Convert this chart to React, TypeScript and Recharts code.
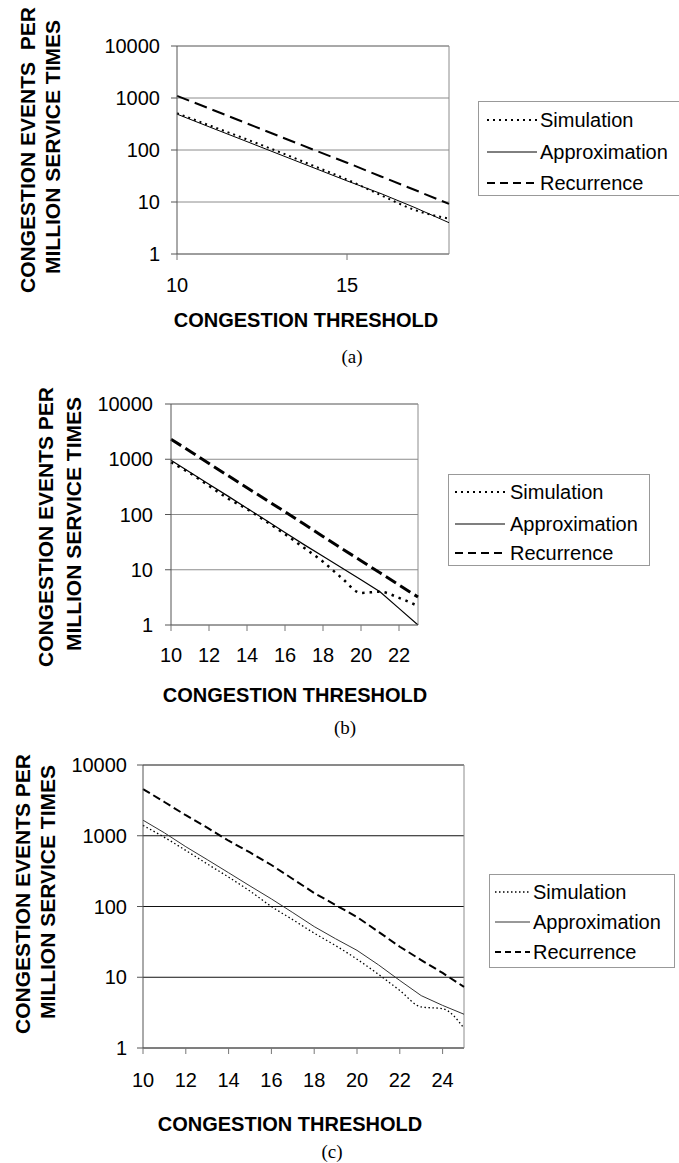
import React from "react";
import { LineChart, Line, XAxis, YAxis, CartesianGrid, ReferenceLine, Legend, Label } from "recharts";

// shared
const seriesNames = ["Simulation", "Approximation", "Recurrence"];
const yTicks = [1, 10, 100, 1000, 10000];

// panel (a)
const thresholdA = [10, 11, 12, 13, 14, 15, 16, 17, 18];
const simulationA = [510, 290, 165, 92, 50, 27, 13.5, 7.0, 4.8];
const approximationA = [490, 270, 150, 83, 46, 25.5, 14.5, 7.8, 4.0];
const recurrenceA = [1100, 610, 335, 185, 102, 57, 31, 17, 9.2];
const xTicksA = [10, 15];

// panel (b)
const thresholdB = [10, 11, 12, 13, 14, 15, 16, 17, 18, 19, 20, 21, 22, 23];
const simulationB = [880, 560, 330, 195, 125, 75, 44, 25, 14, 7, 3.8, 4.0, 3.1, 2.2];
const approximationB = [955, 580, 353, 215, 130, 79, 47, 28.5, 17.5, 10.8, 6.6, 4.0, 2.0, 1.0];
const recurrenceB = [2300, 1400, 840, 505, 305, 185, 112, 67, 40, 24, 14.6, 8.8, 5.3, 3.2];
const xTicksB = [10, 12, 14, 16, 18, 20, 22];

// panel (c)
const thresholdC = [10, 11, 12, 13, 14, 15, 16, 17, 18, 19, 20, 21, 22, 23, 24, 25];
const simulationC = [1400, 950, 620, 400, 260, 165, 100, 65, 42, 28, 18, 11, 6.5, 3.8, 3.6, 1.9];
const approximationC = [1660, 1100, 700, 460, 300, 195, 128, 82, 52, 35, 24, 15, 9, 5.5, 4.0, 3.0];
const recurrenceC = [4570, 3000, 1950, 1300, 850, 580, 386, 245, 155, 105, 71, 44, 27, 17.5, 11.5, 7.3];
const xTicksC = [10, 12, 14, 16, 18, 20, 22, 24];

function rows(t: number[], sim: number[], apx: number[], rec: number[]) {
  return t.map((x, i) => ({ t: x, sim: sim[i], apx: apx[i], rec: rec[i] }));
}

const FONT = "'Liberation Sans', Arial, sans-serif";

type LineStyle = { width: number; dash?: string; color?: string; legendDash?: string };

const panels = [
  {
    id: "a",
    top: 0,
    height: 345,
    data: rows(thresholdA, simulationA, approximationA, recurrenceA),
    xTicks: xTicksA,
    xMax: 18,
    plot: { left: 177, right: 449, top: 46, bottom: 254 },
    yTickMargin: 11,
    xTickMargin: 18,
    gridColor: "#8c8c8c",
    yTitle: { x1: 27, x2: 52, y1: 150, y2: 147, line1: "CONGESTION EVENTS  PER" },
    xTitle: { x: 306, y: 320 },
    caption: { x: 352, y: 357 },
    legend: { left: 478, top: 101, width: 215, height: 95, rows: [19, 51, 82], sx: 9, ex: 59, tx: 62 },
    styles: {
      sim: { width: 2, dash: "2 4", legendDash: "2 4" },
      apx: { width: 1 },
      rec: { width: 2, dash: "13 6", legendDash: "8 5" },
    } as Record<string, LineStyle>,
  },
  {
    id: "b",
    top: 360,
    height: 350,
    data: rows(thresholdB, simulationB, approximationB, recurrenceB),
    xTicks: xTicksB,
    xMax: 23,
    plot: { left: 171, right: 418, top: 44, bottom: 265 },
    yTickMargin: 12,
    xTickMargin: 17,
    gridColor: "#8c8c8c",
    yTitle: { x1: 45, x2: 73, y1: 167, y2: 164, line1: "CONGESTION EVENTS PER" },
    xTitle: { x: 295, y: 335 },
    caption: { x: 345, y: 728 },
    legend: { left: 448, top: 114, width: 202, height: 92, rows: [18, 50, 79], sx: 7, ex: 57, tx: 62 },
    styles: {
      sim: { width: 2.5, dash: "2.5 5", legendDash: "2 4" },
      apx: { width: 1.2 },
      rec: { width: 3, dash: "12 5", legendDash: "8 5" },
    } as Record<string, LineStyle>,
  },
  {
    id: "c",
    top: 740,
    height: 423,
    data: rows(thresholdC, simulationC, approximationC, recurrenceC),
    xTicks: xTicksC,
    xMax: 25,
    plot: { left: 143, right: 464, top: 25, bottom: 308 },
    yTickMargin: 10,
    xTickMargin: 19,
    gridColor: "#111",
    yTitle: { x1: 22, x2: 47, y1: 154, y2: 152, line1: "CONGESTION EVENTS PER" },
    xTitle: { x: 290, y: 384 },
    caption: { x: 332, y: 1152 },
    legend: { left: 489, top: 134, width: 186, height: 94, rows: [18, 48, 78], sx: 6, ex: 41, tx: 44 },
    styles: {
      sim: { width: 1.3, dash: "1.5 2.5", legendDash: "1.5 2.5" },
      apx: { width: 1, color: "#333" },
      rec: { width: 2, dash: "8 4", legendDash: "6 4" },
    } as Record<string, LineStyle>,
  },
];

const keys = ["sim", "apx", "rec"];

function LegendBox({ cfg }: { cfg: any }) {
  const lg = cfg.legend;
  return (
    <svg width={lg.width} height={lg.height} style={{ display: "block", overflow: "visible" }}>
      <rect x={0.5} y={0.5} width={lg.width - 1} height={lg.height - 1} fill="#fff" stroke="#999" />
      {keys.map((k, i) => {
        const st: LineStyle = cfg.styles[k];
        const y = lg.rows[i];
        return (
          <g key={k}>
            <line x1={lg.sx} x2={lg.ex} y1={y} y2={y} stroke={st.color || "#000"}
              strokeWidth={Math.min(st.width, 2)} strokeDasharray={st.legendDash} />
            <text x={lg.tx} y={y} dominantBaseline="central" fontSize={20} fontFamily={FONT} fill="#000">
              {seriesNames[i]}
            </text>
          </g>
        );
      })}
    </svg>
  );
}

function Panel({ cfg }: { cfg: any }) {
  const W = 679;
  const p = cfg.plot;
  const yt = cfg.yTitle;
  return (
    <div style={{ position: "absolute", left: 0, top: cfg.top, width: W, height: cfg.height }}>
      <LineChart
        width={W}
        height={cfg.height}
        data={cfg.data}
        margin={{ top: p.top, right: W - p.right, left: 0, bottom: 0 }}
        style={{ fontFamily: FONT }}
      >
        <CartesianGrid vertical={false} stroke={cfg.gridColor} strokeWidth={1} />
        <ReferenceLine y={10000} stroke="#8c8c8c" />
        <ReferenceLine x={cfg.xMax} stroke="#8c8c8c" />
        <XAxis
          type="number"
          dataKey="t"
          domain={[10, cfg.xMax]}
          ticks={cfg.xTicks}
          interval={0}
          height={cfg.height - p.bottom}
          tickSize={6}
          tickMargin={cfg.xTickMargin}
          axisLine={{ stroke: "#777" }}
          tickLine={{ stroke: "#777" }}
          tick={{ fill: "#000", fontSize: 20, fontFamily: FONT }}
        >
          <Label
            content={() => (
              <text x={cfg.xTitle.x} y={cfg.xTitle.y} textAnchor="middle" dominantBaseline="central"
                fontWeight="bold" fontSize={20} fontFamily={FONT} fill="#000">
                CONGESTION THRESHOLD
              </text>
            )}
          />
        </XAxis>
        <YAxis
          type="number"
          scale="log"
          domain={[1, 10000]}
          ticks={yTicks}
          allowDataOverflow
          interval={0}
          width={p.left}
          tickSize={6}
          tickMargin={cfg.yTickMargin}
          axisLine={{ stroke: "#555" }}
          tickLine={{ stroke: "#555" }}
          tick={{ fill: "#000", fontSize: 20, fontFamily: FONT }}
        >
          <Label
            content={() => (
              <g fontWeight="bold" fontSize={21} fontFamily={FONT} fill="#000">
                <text x={yt.x1} y={yt.y1} transform={`rotate(-90 ${yt.x1} ${yt.y1})`} textAnchor="middle"
                  dominantBaseline="central" style={{ whiteSpace: "pre" }}>
                  {yt.line1}
                </text>
                <text x={yt.x2} y={yt.y2} transform={`rotate(-90 ${yt.x2} ${yt.y2})`} textAnchor="middle"
                  dominantBaseline="central">
                  MILLION SERVICE TIMES
                </text>
              </g>
            )}
          />
        </YAxis>
        <Legend
          layout="vertical"
          align="center"
          verticalAlign="middle"
          wrapperStyle={{ left: cfg.legend.left, top: cfg.legend.top, width: cfg.legend.width, height: cfg.legend.height }}
          content={() => <LegendBox cfg={cfg} />}
        />
        {keys.map((k, i) => {
          const st: LineStyle = cfg.styles[k];
          return (
            <Line
              key={k}
              dataKey={k}
              name={seriesNames[i]}
              type={k === "sim" ? "monotone" : "linear"}
              stroke={st.color || "#000"}
              strokeWidth={st.width}
              strokeDasharray={st.dash}
              dot={false}
              activeDot={false}
              isAnimationActive={false}
            />
          );
        })}
      </LineChart>
    </div>
  );
}

export default function App() {
  return (
    <div style={{ position: "absolute", left: 0, top: 0, width: 679, height: 1163, overflow: "hidden", background: "#fff" }}>
      {panels.map((cfg) => (
        <Panel key={cfg.id} cfg={cfg} />
      ))}
      {panels.map((cfg) => (
        <div
          key={"cap" + cfg.id}
          style={{
            position: "absolute",
            left: cfg.caption.x,
            top: cfg.caption.y,
            transform: "translate(-50%, -50%)",
            fontFamily: "'Liberation Serif', 'Times New Roman', serif",
            fontSize: 19,
            lineHeight: "20px",
            color: "#000",
          }}
        >
          ({cfg.id})
        </div>
      ))}
    </div>
  );
}
